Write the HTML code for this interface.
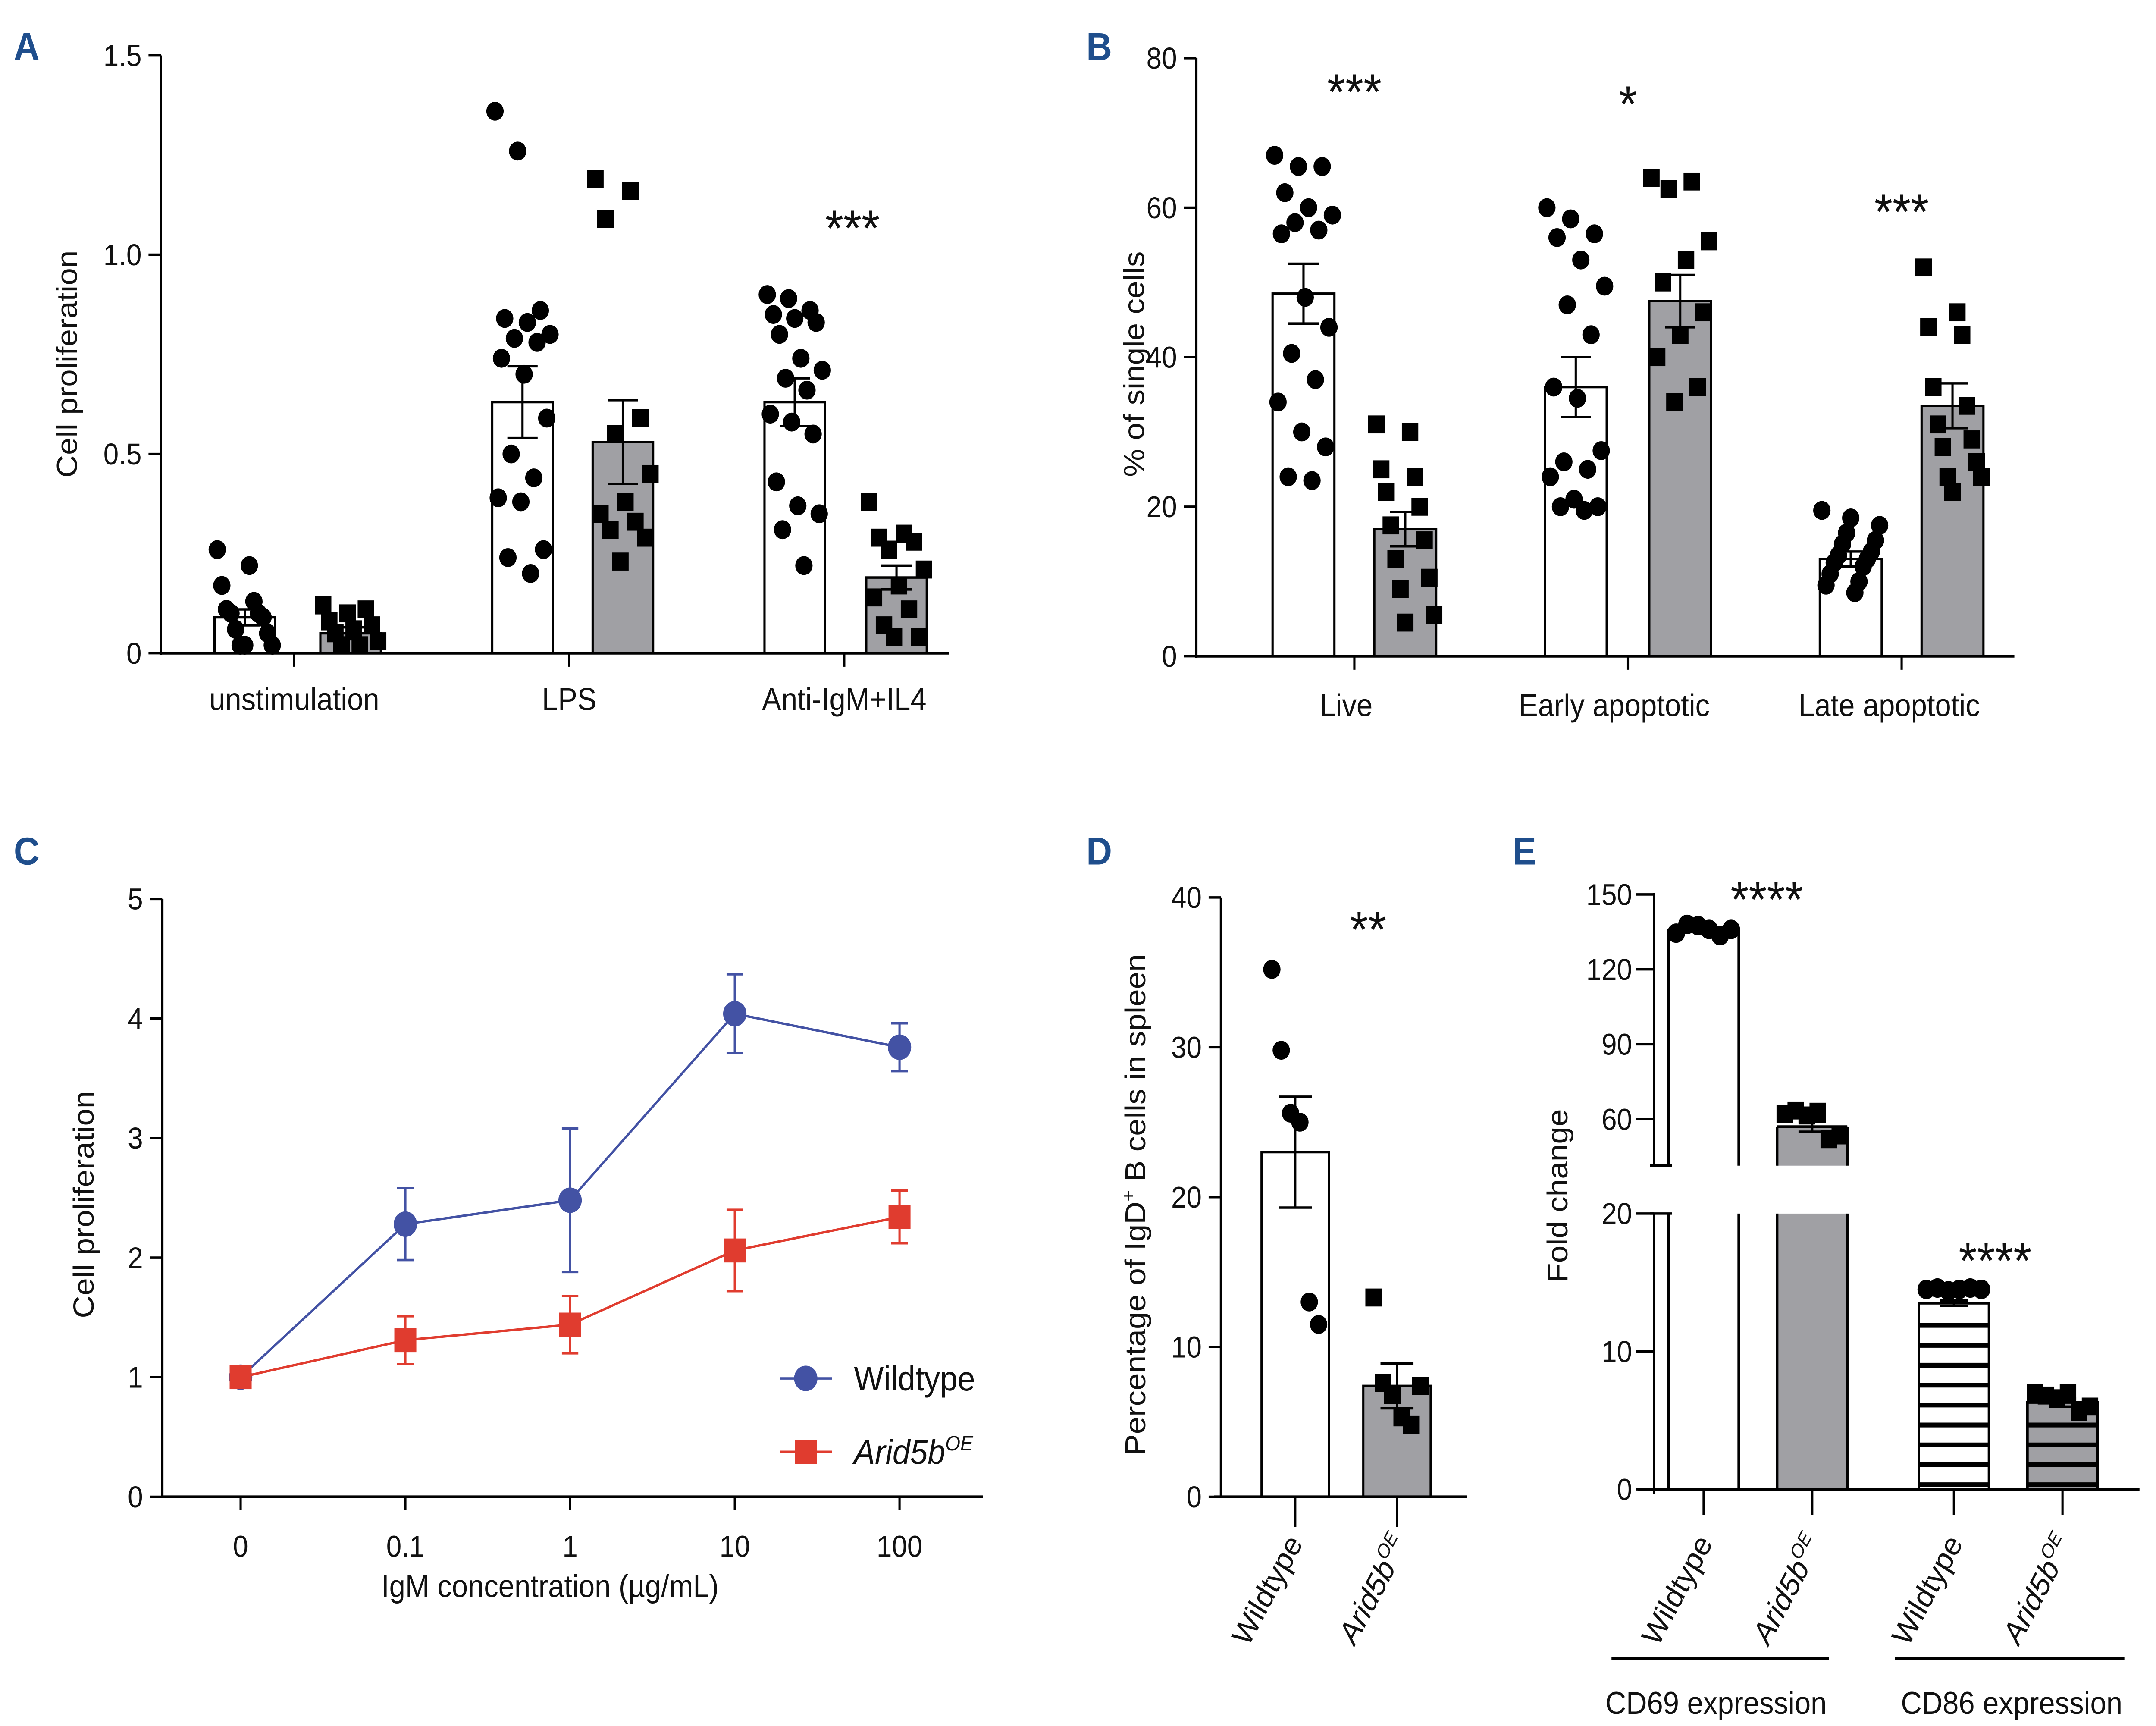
<!DOCTYPE html>
<html><head><meta charset="utf-8"><style>
html,body{margin:0;padding:0;background:#fff;width:100%;height:100%;overflow:hidden;}
svg{display:block;font-family:"Liberation Sans",Arial,sans-serif;width:100vw;height:100vh;}
</style></head><body>
<svg id="fig" viewBox="0 0 1568 1152" preserveAspectRatio="none" xmlns="http://www.w3.org/2000/svg">
<rect x="0" y="0" width="1568" height="1152" fill="#fff"/>
<g font-weight="bold" font-size="26" fill="#1f4e8c">
<text x="10" y="40">A</text>
<text x="790" y="40">B</text>
<text x="10" y="577">C</text>
<text x="790" y="577">D</text>
<text x="1100" y="577">E</text>
</g>
</svg>
<script>
const NS='http://www.w3.org/2000/svg';
const svg=document.getElementById('fig');
function el(tag,attrs,parent,text){const e=document.createElementNS(NS,tag);for(const k in attrs)e.setAttribute(k,attrs[k]);if(text!==undefined)e.textContent=text;(parent||svg).appendChild(e);return e;}
function line(x1,y1,x2,y2,w,c,name){const e=el('line',{x1,y1,x2,y2,stroke:c||'#000','stroke-width':w||1.6});

return e;}
function txt(x,y,s,size,anchor,name,extra){const e=el('text',Object.assign({x,y,'font-size':size||20,'text-anchor':anchor||'middle',fill:'#111'},extra||{}),svg,s);

return e;}
function dot(x,y,r,name){const e=el('circle',{cx:x,cy:y,r:r||6,fill:'#000'});

return e;}
function sq(x,y,s,name){const e=el('rect',{x:x-(s||11)/2,y:y-(s||11)/2,width:s||11,height:s||11,fill:'#000'});

return e;}
function jit(i,n,w){if(n<2)return 0;return (((i*7)%n)/(n-1)-0.5)*w;}
function errbar(x,y1,y2,w,c,name){const g=el('g',{stroke:c||'#000','stroke-width':1.6});


el('line',{x1:x,y1:y1,x2:x,y2:y2},g);el('line',{x1:x-w,y1:y1,x2:x+w,y2:y1},g);el('line',{x1:x-w,y1:y2,x2:x+w,y2:y2},g);}

/* ===== Panel A data ===== */
const aGroups=['unstimulation','LPS','Anti-IgM+IL4'];
const aMeans=[0.09,0.05,0.63,0.53,0.63,0.19];
const aErr=[0.02,0.015,0.09,0.105,0.06,0.03];
const aPts=[[0.26,0.22,0.17,0.13,0.11,0.10,0.10,0.09,0.06,0.05,0.02,0.02,0.02],
[0.12,0.11,0.10,0.08,0.07,0.06,0.05,0.03,0.02,0.02],
[1.36,1.26,0.86,0.84,0.83,0.80,0.79,0.78,0.74,0.70,0.59,0.50,0.44,0.39,0.38,0.26,0.24,0.20],
[1.19,1.16,1.09,0.59,0.55,0.45,0.38,0.35,0.33,0.31,0.29,0.23],
[0.90,0.89,0.86,0.85,0.84,0.83,0.80,0.74,0.71,0.69,0.66,0.60,0.58,0.55,0.43,0.37,0.35,0.31,0.22],
[0.38,0.30,0.29,0.28,0.26,0.21,0.17,0.14,0.11,0.07,0.04,0.04]];
const aTicks=[0,0.5,1.0,1.5];
const aTickLabels=['0','0.5','1.0','1.5'];
/* ===== Panel B data ===== */
const bGroups=['Live','Early apoptotic','Late apoptotic'];
const bMeans=[48.5,17,36,47.5,13,33.5];
const bErr=[4,2.3,4,3.5,1,3];
const bPts=[[67,65.5,65.5,62,60,59,58,57,56.5,48,44,40.5,37,34,30,28,24,23.5],
[31,30,25,24,22,20,17.5,15.5,13,10.5,9,5.5,4.5],
[60,58.5,56.5,56,53,49.5,47,43,36,34.5,27.5,26,25,24,21,20,20,19.5],
[64,63.5,62.5,55.5,53,50,46,43,40,36,34],
[19.5,18.5,17.5,16.5,15.5,15,14,13.5,13,12.5,12,11,10,9.5,8.5],
[52,46,44,43,36,33.5,31,29,28,26,24,24,22]];
const bTicks=[0,20,40,60,80];
const bStars=['***','*','***'];
/* ===== Panel C data ===== */
const cCats=['0','0.1','1','10','100'];
const cWT=[1,2.28,2.48,4.04,3.76];
const cWTerr=[0,0.3,0.6,0.33,0.2];
const cKO=[1,1.31,1.44,2.06,2.34];
const cKOerr=[0,0.2,0.24,0.34,0.22];
const cTicks=[0,1,2,3,4,5];
/* ===== Panel D data ===== */
const dMeans=[23,7.4];
const dErr=[3.7,1.5];
const dPts=[[35.2,29.8,25.6,25,13,11.5],[13.3,7.6,6.8,5.3,4.8,7.4]];
const dTicks=[0,10,20,30,40];
/* ===== Panel E data ===== */
const eMeans=[136,57,13.5,6.3];
const eErr=[0.8,2,0.2,0.3];
const ePts=[[134.5,138,137.5,136,133.5,136],[62,63.5,61.5,63,52,53.5],[14.5,14.6,14.4,14.5,14.6,14.5],[7,6.8,6.6,7,5.6,6]];
const eTicksHi=[60,90,120,150];
const eTicksLo=[0,10,20];

/* ===== Panel A draw ===== */
(function(){
const ax=117,y0=436,k=266,yA=v=>y0-v*k;
const centers=[178,255,380,453,578,652],bw=44;
aMeans.forEach((m,i)=>{const r=el('rect',{x:centers[i]-bw/2,y:yA(m),width:bw,height:y0-yA(m),fill:i%2?'#a0a0a4':'#fff',stroke:'#000','stroke-width':1.6});


errbar(centers[i],yA(m+aErr[i]),yA(m-aErr[i]),11);});
aPts.forEach((arr,i)=>arr.forEach((v,j)=>{const x=centers[i]+jit(j,arr.length,40);if(i%2)sq(x,yA(v),12,'point-a');else dot(x,yA(v),6.3,'point-a');}));
line(ax,yA(1.5),ax,y0+1,'1.8');line(ax-1,y0,690,y0,'1.8');
aTicks.forEach((t,i)=>{line(ax-9,yA(t),ax,yA(t),1.6,'#000','y-tick');txt(ax-14,yA(t)+7,aTickLabels[i],20,'end','y-tick-label');});
aGroups.forEach((g,i)=>{const x=214+i*200;line(x,y0,x,y0+9,1.6,'#000','x-tick');txt(x,y0+38,g,21,'middle','x-group-label');});
txt(620,164,'***',34,'middle','significance');
txt(56,243,'Cell proliferation',21,'middle','y-axis-title',{transform:'rotate(-90 56 243)'});
})();

/* ===== Panel B draw ===== */
(function(){
const ax=870,y0=438,k=4.99,yB=v=>y0-v*k;
const centers=[948,1022,1146,1222,1346,1420],bw=45;
bMeans.forEach((m,i)=>{const r=el('rect',{x:centers[i]-bw/2,y:yB(m),width:bw,height:y0-yB(m),fill:i%2?'#a0a0a4':'#fff',stroke:'#000','stroke-width':1.6});


errbar(centers[i],yB(m+bErr[i]),yB(m-bErr[i]),11);});
bPts.forEach((arr,i)=>arr.forEach((v,j)=>{const x=centers[i]+jit(j,arr.length,42);if(i%2)sq(x,yB(v),12,'point-b');else dot(x,yB(v),6.3,'point-b');}));
line(ax,yB(80),ax,y0+1,'1.8');line(ax-1,y0,1465,y0,'1.8');
bTicks.forEach(t=>{line(ax-9,yB(t),ax,yB(t),1.6,'#000','y-tick');txt(ax-14,yB(t)+7,String(t),20,'end','y-tick-label');});
const labX=[979,1174,1374];
bGroups.forEach((g,i)=>{const x=(centers[2*i]+centers[2*i+1])/2;line(x,y0,x,y0+9,1.6,'#000','x-tick');txt(labX[i],y0+40,g,21,'middle','x-group-label');txt(x,y0-365+(i==1?8:0)+(i==2?80:0),bStars[i],34,'middle','significance');});
txt(832,243,'% of single cells',21,'middle','y-axis-title',{transform:'rotate(-90 832 243)'});
})();

/* ===== Panel C draw ===== */
(function(){
const ax=118,y0=999,k=79.8,yC=v=>y0-v*k;
const xC=i=>175+i*119.8;
line(ax,yC(5),ax,y0+1,'1.8');line(ax-1,y0,715,y0,'1.8');
cTicks.forEach(t=>{line(ax-9,yC(t),ax,yC(t),1.6,'#000','y-tick');txt(ax-14,yC(t)+7,String(t),20,'end','y-tick-label');});
cCats.forEach((c,i)=>{line(xC(i),y0,xC(i),y0+9,1.6,'#000','x-tick');txt(xC(i),y0+40,c,20,'middle','x-tick-label');});
function series(vals,errs,col,isSq,name){
const p=el('polyline',{points:vals.map((v,i)=>xC(i)+','+yC(v)).join(' '),fill:'none',stroke:col,'stroke-width':1.6});


vals.forEach((v,i)=>{if(errs[i]>0)errbar(xC(i),yC(v+errs[i]),yC(v-errs[i]),6,col,name+'-error');});
vals.forEach((v,i)=>{let m;if(isSq){m=el('rect',{x:xC(i)-8,y:yC(v)-8,width:16,height:16,fill:col});}else{m=el('circle',{cx:xC(i),cy:yC(v),r:8.5,fill:col});}

});}
series(cWT,cWTerr,'#4352a4',false,'wildtype');
series(cKO,cKOerr,'#e03c2f',true,'arid5b');
line(567,920,605,920,1.6,'#4352a4','legend-wildtype-line');
const c1=el('circle',{cx:586,cy:920,r:8.5,fill:'#4352a4'});


txt(621,928,'Wildtype',23,'start','legend-wildtype');
line(567,969,605,969,1.6,'#e03c2f','legend-arid5b-line');
const r1=el('rect',{x:578,y:961,width:16,height:16,fill:'#e03c2f'});


const lt=txt(621,977,'',23,'start','legend-arid5b',{'font-style':'italic'});
el('tspan',{},lt,'Arid5b');el('tspan',{'font-size':14,dy:-9},lt,'OE');
txt(400,1066,'IgM concentration (\u00b5g/mL)',21,'middle','x-axis-title');
txt(68,804,'Cell proliferation',21,'middle','y-axis-title',{transform:'rotate(-90 68 804)'});
})();

function rotLabel(x,y,ang,italicSup,name){
const t=txt(x,y,'',21,'end',name,{transform:'rotate('+ang+' '+x+' '+y+')','font-style':'italic'});
if(italicSup){el('tspan',{},t,'Arid5b');el('tspan',{'font-size':13,dy:-9},t,'OE');}else{t.textContent='Wildtype';t.setAttribute('font-style','normal');}
return t;}

/* ===== Panel D draw ===== */
(function(){
const ax=888,y0=999,k=10,yD=v=>y0-v*k;
const centers=[942,1016],bw=49;
dMeans.forEach((m,i)=>{const r=el('rect',{x:centers[i]-bw/2,y:yD(m),width:bw,height:y0-yD(m),fill:i?'#a0a0a4':'#fff',stroke:'#000','stroke-width':1.6});


errbar(centers[i],yD(m+dErr[i]),yD(m-dErr[i]),12);});
dPts.forEach((arr,i)=>arr.forEach((v,j)=>{const x=centers[i]+jit(j,arr.length,34);if(i)sq(x,yD(v),12,'point-d');else dot(x,yD(v),6.3,'point-d');}));
line(ax,yD(40),ax,y0+1,'1.8');line(ax-5,y0,1067,y0,'1.8');
dTicks.forEach(t=>{line(ax-9,yD(t),ax,yD(t),1.6,'#000','y-tick');txt(ax-14,yD(t)+7,String(t),20,'end','y-tick-label');});
centers.forEach(c=>line(c,y0,c,y0+20,1.6,'#000','x-tick'));
rotLabel(948,1030,-60,false,'x-label-wildtype');
rotLabel(1025,1030,-60,true,'x-label-arid5b');
txt(995,632,'**',34,'middle','significance');
const t=txt(833,804,'',21,'middle','y-axis-title',{transform:'rotate(-90 833 804)'});
el('tspan',{},t,'Percentage of IgD');el('tspan',{'font-size':13,dy:-8},t,'+');el('tspan',{dy:8},t,' B cells in spleen');
})();

/* ===== Panel E draw ===== */
(function(){
const ax=1203,y0=994,kLo=9.2,brkLo=810,brkHi=778,kHi=50/30;
const yLo=v=>y0-v*kLo, yHi=v=>747-(v-60)*kHi;
const yE=v=>v<=20?yLo(v):yHi(v);
const centers=[1239,1318,1421,1500],bw=51;
eMeans.slice(0,2).forEach((m,i)=>{const c=centers[i],fill=i?'#a0a0a4':'#fff';
const r1=el('rect',{x:c-bw/2,y:yHi(m),width:bw,height:brkHi-yHi(m),fill:fill,stroke:'none'});


const r2=el('rect',{x:c-bw/2,y:brkLo,width:bw,height:y0-brkLo,fill:fill,stroke:'none'});


line(c-bw/2,yHi(m),c-bw/2,brkHi,1.8);line(c+bw/2,yHi(m),c+bw/2,brkHi,1.8);
line(c-bw/2,brkLo,c-bw/2,y0,1.8);line(c+bw/2,brkLo,c+bw/2,y0,1.8);
line(c-bw/2,yHi(m),c+bw/2,yHi(m),1.8);});
eMeans.slice(2).forEach((m,j)=>{const i=j+2,c=centers[i];
const r=el('rect',{x:c-bw/2,y:yLo(m),width:bw,height:y0-yLo(m),fill:j?'#a0a0a4':'#fff',stroke:'#000','stroke-width':1.8});


for(let yy=y0-3;yy>yLo(m)+3;yy-=13.3){line(c-bw/2,yy,c+bw/2,yy,3.2,'#000','bar-stripe');}});
eMeans.forEach((m,i)=>errbar(centers[i],yE(m+eErr[i]),yE(m-eErr[i]),10));
ePts.forEach((arr,i)=>arr.forEach((v,j)=>{const x=centers[i]-20+j*8;if(i%2)sq(x,yE(v),12,'point-e');else dot(x,yE(v),6.5,'point-e');}));
line(ax,596,ax,brkHi,'1.8');line(ax,brkLo,ax,y0+3,'1.8');
line(ax-3,brkHi,ax+13,brkHi,1.6,'#000','axis-break');line(ax-3,brkLo,ax+13,brkLo,1.6,'#000','axis-break');
line(ax-12,y0,1556,y0,'1.8');
eTicksHi.forEach(t=>{line(ax-13,yHi(t),ax,yHi(t),1.6,'#000','y-tick');txt(ax-16,yHi(t)+7,String(t),20,'end','y-tick-label');});
eTicksLo.forEach(t=>{line(ax-13,yLo(t),ax,yLo(t),1.6,'#000','y-tick');txt(ax-16,yLo(t)+7,String(t),20,'end','y-tick-label');});
centers.forEach(c=>line(c,y0,c,y0+17,1.6,'#000','x-tick'));
rotLabel(1246,1030,-60,false,'x-label-wildtype-cd69');
rotLabel(1326,1030,-60,true,'x-label-arid5b-cd69');
rotLabel(1428,1030,-60,false,'x-label-wildtype-cd86');
rotLabel(1508,1030,-60,true,'x-label-arid5b-cd86');
line(1172,1107,1330,1107,1.8,'#000','group-line-cd69');line(1378,1107,1545,1107,1.8,'#000','group-line-cd86');
txt(1248,1144,'CD69 expression',21,'middle','group-label-cd69');
txt(1463,1144,'CD86 expression',21,'middle','group-label-cd86');
txt(1285,612,'****',34,'middle','significance');
txt(1451,853,'****',34,'middle','significance');
txt(1140,798,'Fold change',21,'middle','y-axis-title',{transform:'rotate(-90 1140 798)'});
})();
</script>
</body></html>
